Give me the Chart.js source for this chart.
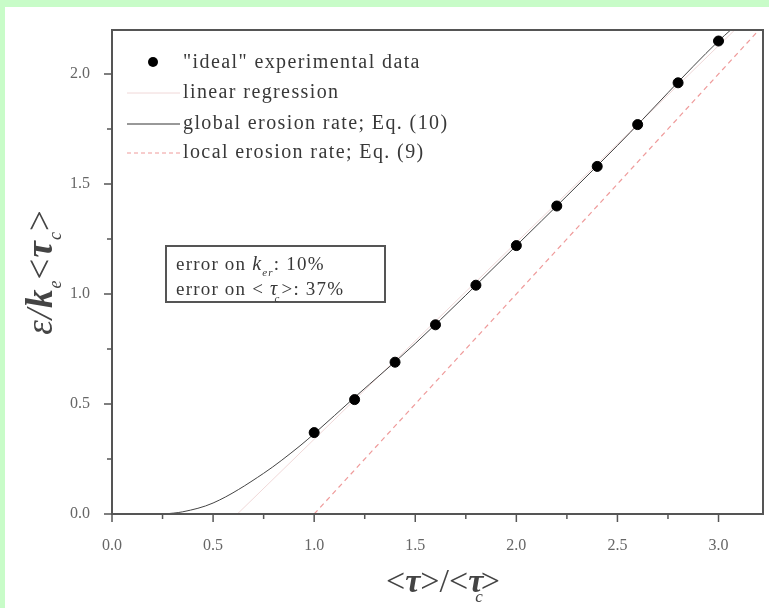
<!DOCTYPE html>
<html>
<head>
<meta charset="utf-8">
<script src="https://cdn.jsdelivr.net/npm/chart.js@4.4.1/dist/chart.umd.min.js"></script>
<style>
  html, body { margin: 0; padding: 0; background: #c8fcc8; }
  #wrap { position: absolute; left: 0; top: 0; width: 769px; height: 608px; }
</style>
</head>
<body>
<div id="wrap"><canvas id="chart" width="769" height="608"></canvas></div>
<script>
// measured points ("ideal" experimental data)
const dataX = [1.0, 1.2, 1.4, 1.6, 1.8, 2.0, 2.2, 2.4, 2.6, 2.8, 3.0];
const dataY = [0.37, 0.52, 0.69, 0.86, 1.04, 1.22, 1.40, 1.58, 1.77, 1.96, 2.15];

// linear regression line
const regX = [0.62, 3.08];
const regY = [0.0, 2.2];

// global erosion rate, Eq. (10)
const globX = [0.26, 0.35, 0.5, 0.75, 0.93, 1.0, 1.2, 1.5, 2.0, 2.5, 3.0, 3.06];
const globY = [0.0, 0.01, 0.05, 0.185, 0.31, 0.365, 0.53, 0.775, 1.22, 1.675, 2.15, 2.2];

// local erosion rate, Eq. (9)
const locX = [1.0, 3.2];
const locY = [0.0, 2.2];

const xTicks = [0.0, 0.5, 1.0, 1.5, 2.0, 2.5, 3.0];
const yTicks = [0.0, 0.5, 1.0, 1.5, 2.0];

const labels = ['"ideal" experimental data', 'linear regression',
                'global erosion rate; Eq. (10)', 'local erosion rate; Eq. (9)'];

function pts(xs, ys) {
  return xs.map((x, i) => ({ x: x, y: ys[i] }));
}

const serif = '"Liberation Serif", "DejaVu Serif", serif';
const axisColor = '#555';

// draws a run of [text, font, dy, dx] pieces starting at x, returns end x
function runText(c, parts, x, y) {
  parts.forEach(p => {
    c.font = p[1] + ' ' + serif;
    c.fillText(p[0], x + (p[3] || 0), y + p[2]);
    x += c.measureText(p[0]).width + (p[3] || 0);
  });
  return x;
}
function runWidth(c, parts) {
  let w = 0;
  parts.forEach(p => { c.font = p[1] + ' ' + serif; w += c.measureText(p[0]).width + (p[3] || 0); });
  return w;
}

const decor = {
  id: 'decor',
  beforeDraw(chart) {
    const c = chart.ctx;
    c.save();
    c.fillStyle = '#c8fcc8';
    c.fillRect(0, 0, chart.width, chart.height);
    c.fillStyle = '#fff';
    c.fillRect(5, 7, chart.width - 5, chart.height - 7);
    c.restore();
  },
  afterDraw(chart) {
    const c = chart.ctx;
    const a = chart.chartArea;
    const xs = chart.scales.x, ys = chart.scales.y;
    c.save();
    // frame
    c.strokeStyle = axisColor;
    c.lineWidth = 2;
    c.strokeRect(a.left, a.top, a.right - a.left, a.bottom - a.top);
    // major + minor ticks, pointing outward
    c.lineWidth = 1.5;
    for (let v = 0; v <= xs.max + 1e-9; v += 0.25) {
      const px = xs.getPixelForValue(v);
      const major = Math.abs(v * 2 - Math.round(v * 2)) < 1e-6;
      c.beginPath();
      c.moveTo(px, a.bottom);
      c.lineTo(px, a.bottom + (major ? 8 : 5));
      c.stroke();
    }
    for (let v = 0; v <= ys.max + 1e-9; v += 0.25) {
      const py = ys.getPixelForValue(v);
      const major = Math.abs(v * 2 - Math.round(v * 2)) < 1e-6;
      c.beginPath();
      c.moveTo(a.left, py);
      c.lineTo(a.left - (major ? 8 : 5), py);
      c.stroke();
    }

    // legend
    const lx = a.left + 15, tx = a.left + 71;
    const rows = [63, 93, 124, 153];
    c.font = '20px ' + serif;
    c.fillStyle = '#383838';
    c.textBaseline = 'middle';
    c.letterSpacing = '1.4px';
    labels.forEach((t, i) => c.fillText(t, tx, rows[i]));
    c.letterSpacing = '0px';
    c.fillStyle = '#000';
    c.beginPath();
    c.arc(a.left + 41, rows[0] - 1, 5, 0, Math.PI * 2);
    c.fill();
    c.lineWidth = 1;
    c.strokeStyle = '#f0d8d8';
    c.beginPath(); c.moveTo(lx, rows[1]); c.lineTo(tx - 3, rows[1]); c.stroke();
    c.strokeStyle = '#333';
    c.beginPath(); c.moveTo(lx, rows[2]); c.lineTo(tx - 3, rows[2]); c.stroke();
    c.strokeStyle = '#ef9a9a';
    c.setLineDash([4, 3]);
    c.beginPath(); c.moveTo(lx, rows[3]); c.lineTo(tx - 3, rows[3]); c.stroke();
    c.setLineDash([]);

    // error box
    c.fillStyle = '#fff';
    c.fillRect(166, 246, 219, 56);
    c.strokeStyle = '#555';
    c.lineWidth = 2;
    c.strokeRect(166, 246, 219, 56);
    c.fillStyle = '#383838';
    c.letterSpacing = '1.2px';
    runText(c, [['error on ', '19px', 0], ['k', 'italic 20px', 0], ['er', 'italic 11px', 8],
                [': 10%', '19px', 0]], 176, 265);
    runText(c, [['error on < ', '19px', 0], ['\u03c4', 'italic 20px', 0], ['c', 'italic 11px', 9, -4],
                ['>: 37%', '19px', 0, 1]], 176, 290);
    c.letterSpacing = '0px';

    // axis titles
    c.fillStyle = '#444';
    c.textBaseline = 'alphabetic';
    const xp = [['<', '34px', 0], ['\u03c4', 'italic bold 34px', 0], ['>/<', '34px', 0],
                ['\u03c4', 'italic bold 34px', 0], ['c', 'italic 17px', 10, -8], ['>', '34px', 0, -2]];
    runText(c, xp, 443 - runWidth(c, xp) / 2, 592);

    c.translate(52, 272);
    c.rotate(-Math.PI / 2);
    c.letterSpacing = '1px';
    const yp = [['\u03b5/', 'italic 37px', 0], ['k', 'italic bold 37px', 0], ['e', 'italic 18px', 9],
                ['<', '37px', 0], ['\u03c4', 'italic bold 37px', 0], ['c', 'italic 18px', 9], ['>', '37px', 0]];
    runText(c, yp, -runWidth(c, yp) / 2, 0);
    c.restore();
  }
};

new Chart(document.getElementById('chart'), {
  type: 'scatter',
  data: {
    datasets: [
      {
        label: labels[0],
        data: pts(dataX, dataY),
        backgroundColor: '#000',
        borderColor: '#000',
        pointRadius: 5,
        order: 0,
      },
      {
        label: labels[1],
        data: pts(regX, regY),
        showLine: true,
        borderColor: '#f0d8d8',
        borderWidth: 1,
        pointRadius: 0,
        order: 3,
      },
      {
        label: labels[2],
        data: pts(globX, globY),
        showLine: true,
        borderColor: '#444',
        borderWidth: 1,
        pointRadius: 0,
        cubicInterpolationMode: 'monotone',
        order: 1,
      },
      {
        label: labels[3],
        data: pts(locX, locY),
        showLine: true,
        borderColor: '#ef9a9a',
        borderWidth: 1.2,
        borderDash: [5, 4],
        pointRadius: 0,
        order: 2,
      },
    ],
  },
  options: {
    responsive: false,
    animation: false,
    layout: { padding: { top: 30, right: 1, left: 0, bottom: 0 } },
    plugins: {
      legend: { display: false },
      tooltip: { enabled: false },
    },
    scales: {
      x: {
        type: 'linear',
        min: 0,
        max: 3.22,
        afterFit: s => { s.height = 94; s.paddingRight = 0; s.paddingLeft = 0; },
        afterBuildTicks: s => { s.ticks = xTicks.map(v => ({ value: v })); },
        grid: { display: false },
        border: { display: false },
        ticks: {
          padding: 14,
          color: '#666',
          font: { family: serif, size: 16 },
          callback: v => v.toFixed(1),
        },
      },
      y: {
        type: 'linear',
        min: 0,
        max: 2.2,
        afterFit: s => { s.width = 112; s.paddingTop = 0; s.paddingBottom = 0; },
        afterBuildTicks: s => { s.ticks = yTicks.map(v => ({ value: v })); },
        grid: { display: false },
        border: { display: false },
        ticks: {
          padding: 14,
          color: '#666',
          font: { family: serif, size: 16 },
          callback: v => v.toFixed(1),
        },
      },
    },
  },
  plugins: [decor],
});
</script>
</body>
</html>
